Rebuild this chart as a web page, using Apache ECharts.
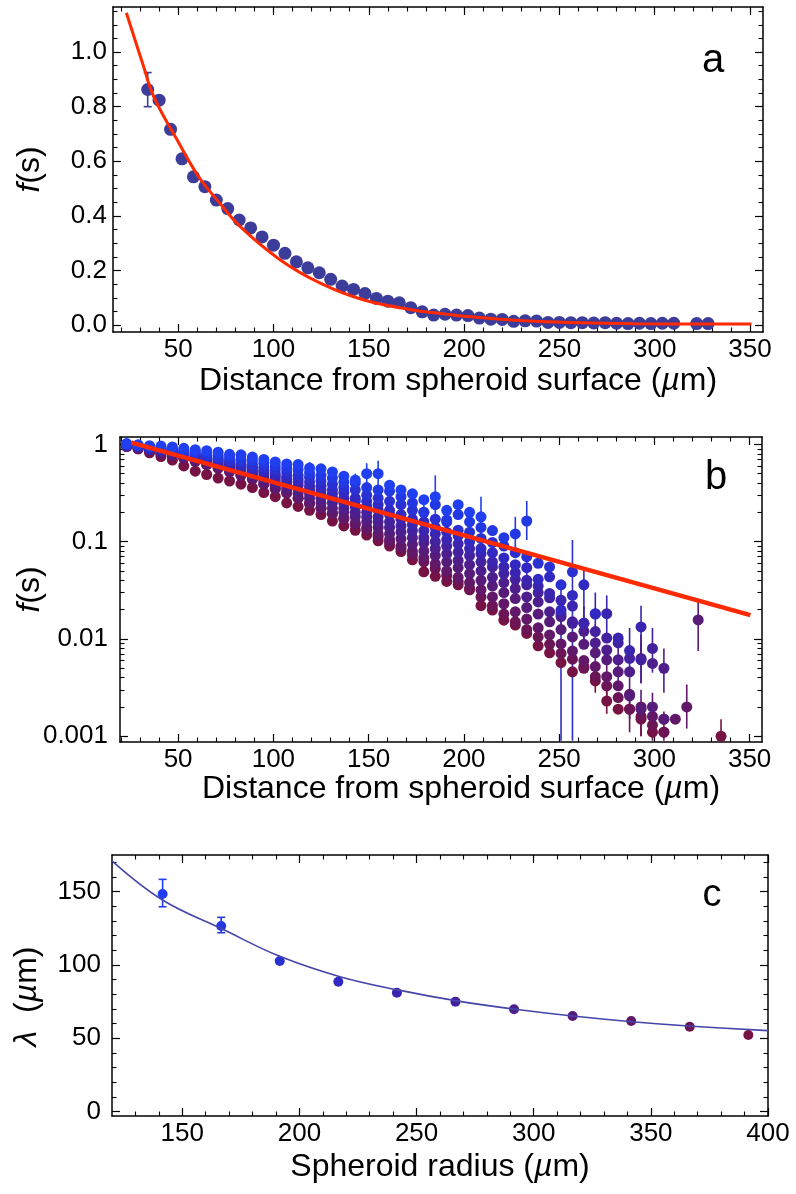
<!DOCTYPE html>
<html><head><meta charset="utf-8">
<script src="https://cdn.jsdelivr.net/npm/echarts@6/dist/echarts.min.js"></script>
<style>html,body{margin:0;padding:0;background:#fff}#c{width:796px;height:1194px}</style>
</head><body><div id="c"></div>
<script>
// ================= DATA =================
// Panel a : single spheroid profile
const distA = [34,40,46,52,58,64,70,76,82,88,94,100,106,112,118,124,130,136,142,148,154,160,166,172,178,184,190,196,202,208,214,220,226,232,238,244,250,256,262,268,274,280,286,292,298,304,310,322,328];
const fA = [0.863,0.824,0.717,0.609,0.543,0.507,0.458,0.427,0.385,0.356,0.323,0.293,0.263,0.232,0.21,0.192,0.168,0.143,0.131,0.116,0.098,0.088,0.082,0.064,0.049,0.037,0.040,0.037,0.035,0.026,0.022,0.021,0.014,0.016,0.015,0.010,0.010,0.009,0.009,0.008,0.009,0.007,0.006,0.007,0.006,0.007,0.007,0.006,0.006];
const errA = [[34,0.80,0.925,0]];
const fitAx = [22.8,31.9,37.2,49.5,60.8,70.5,82.7,103.8,124.8,147.5,173.8,187.8,201.8,236.9,289.4,350.7];
const fitAy = [1.144,0.946,0.836,0.678,0.543,0.458,0.36,0.238,0.153,0.092,0.055,0.043,0.032,0.014,0.0055,0.004];

// Panel b : profiles for 11 spheroid radii (blue = small, maroon = large)
const distanceBins = [23,29,35,41,47,53,59,65,71,77,83,89,95,101,107,113,119,125,131,137,143,149,155,161,167,173,179,185,191,197,203,209,215,221,227,233,239,245,251,257,263,269,275,281,287,293,299,305,311,317,323,329,335];
const fB1 = [1.02,0.99,0.97,0.96,0.94,0.91,0.88,0.86,0.83,0.79,0.78,0.74,0.70,0.66,0.63,0.62,0.57,0.56,0.52,0.47,0.43,0.50,0.50,0.38,0.34,0.31,0.27,0.29,0.21,0.24,0.20,0.18];
const fB2 = [1.0,0.98,0.95,0.93,0.9,0.87,0.84,0.8,0.77,0.74,0.70,0.68,0.64,0.6,0.57,0.55,0.51,0.48,0.45,0.41,0.40,0.36,0.34,0.33,0.29,0.25,0.20,0.24,0.167,0.19,0.16,0.14,0.13,0.11,0.12,0.163];
const fB3 = [0.99,0.97,0.94,0.91,0.88,0.84,0.81,0.77,0.73,0.69,0.66,0.62,0.58,0.55,0.52,0.48,0.46,0.42,0.39,0.36,0.34,0.30,0.28,0.26,0.24,0.21,0.20,0.17,0.16,0.131,0.125,0.108,0.098,0.09,0.077,0.07,0.06,0.055,0.036,0.049];
const fB4 = [1.0,0.96,0.92,0.89,0.86,0.82,0.78,0.74,0.70,0.66,0.62,0.58,0.54,0.50,0.47,0.44,0.41,0.37,0.34,0.32,0.28,0.26,0.24,0.21,0.19,0.17,0.16,0.14,0.125,0.115,0.10,0.085,0.077,0.068,0.058,0.054,0.041,0.0435,0.0198,0.028,0.036,0.018];
const fB5 = [0.98,0.95,0.91,0.88,0.85,0.81,0.77,0.72,0.68,0.64,0.60,0.56,0.52,0.47,0.44,0.41,0.37,0.34,0.31,0.28,0.26,0.23,0.21,0.19,0.17,0.15,0.13,0.12,0.105,0.095,0.085,0.075,0.062,0.055,0.048,0.04,0.035,0.0294,0.025,0.0218,0.0145,0.0182,0.0182,0.0102,0.0076,0.0133];
const fB6 = [1.0,0.95,0.9,0.87,0.83,0.79,0.75,0.7,0.66,0.62,0.58,0.53,0.49,0.44,0.41,0.38,0.34,0.31,0.28,0.25,0.23,0.2,0.18,0.16,0.145,0.13,0.11,0.1,0.09,0.078,0.072,0.062,0.055,0.047,0.041,0.036,0.03,0.0265,0.0182,0.0145,0.0145,0.0119,0.0102,0.0091,0.0063,0.0061,0.0080];
const fB7 = [0.97,0.94,0.89,0.85,0.82,0.77,0.73,0.68,0.63,0.59,0.55,0.5,0.45,0.41,0.38,0.34,0.31,0.28,0.25,0.22,0.2,0.18,0.16,0.14,0.125,0.11,0.097,0.085,0.075,0.064,0.058,0.05,0.043,0.038,0.033,0.027,0.024,0.019,0.017,0.015,0.012,0.0091,0.0077,0.0061,0.0046,0.0063,0.0056,0.005];
const fB8 = [0.95,0.92,0.88,0.83,0.79,0.75,0.7,0.65,0.61,0.56,0.52,0.47,0.42,0.38,0.35,0.31,0.28,0.25,0.22,0.2,0.18,0.16,0.14,0.12,0.107,0.094,0.08,0.072,0.062,0.054,0.047,0.04,0.035,0.03,0.026,0.021,0.018,0.015,0.0125,0.0105,0.0088,0.0072,0.0061,0.0046,0.0026,0.0019,0.002,0.0015,null,null,0.0157];
const fB9 = [0.98,0.92,0.86,0.81,0.77,0.72,0.67,0.62,0.57,0.52,0.48,0.44,0.39,0.35,0.32,0.28,0.25,0.22,0.195,0.175,0.155,0.14,0.12,0.105,0.09,0.08,0.068,0.059,0.05,0.043,0.038,0.032,0.027,0.023,0.019,0.016,0.013,0.011,0.0089,0.0075,0.006,0.0052,0.0041,0.0033,0.0027,0.002,0.0016,0.0015,0.0015,0.002];
const fB10 = [0.95,0.9,0.85,0.8,0.76,0.72,0.67,0.62,0.57,0.53,0.48,0.44,0.39,0.35,0.315,0.28,0.245,0.22,0.195,0.17,0.15,0.132,0.113,0.098,0.085,0.073,0.062,0.053,0.045,0.039,0.033,0.027,0.022,0.018,0.015,0.0125,0.0105,0.0088,0.0071,0.0062,0.005,0.0041,0.0033,0.0025,0.0019,0.0016,0.0013,0.0011];
const fB11 = [0.97,0.9,0.82,0.75,0.69,0.6,0.53,0.49,0.45,0.42,0.39,0.36,0.32,0.29,0.25,0.23,0.21,0.19,0.163,0.145,0.131,0.117,0.102,0.09,0.079,0.065,0.049,0.044,0.039,0.036,0.032,0.022,0.0198,0.0156,0.0139,0.0114,0.0085,0.0072,0.0057,0.0046,0.0052,0.0037,0.0023,0.0019,0.0019,0.0015,0.0011,0.0011,null,null,null,null,0.001];
// error bars: [distance, low, high, profile index]
const errB = [[119,0.50,0.66,0],[125,0.50,0.63,0],[143,0.37,0.50,0],[149,0.36,0.64,0],[155,0.37,0.68,0],[185,0.18,0.48,0],[209,0.112,0.29,0],
  [173,0.19,0.33,1],[179,0.16,0.27,1],[191,0.14,0.21,1],[227,0.07,0.18,1],[233,0.104,0.262,1],
  [257,0.0009,0.104,2],[251,0.0009,0.035,3],[233,0.035,0.08,3],[263,0.022,0.055,3],
  [269,0.011,0.03,4],[275,0.011,0.028,4],[287,0.004,0.013,4],[293,0.0065,0.022,4],[263,0.009,0.022,4],
  [251,0.011,0.027,5],[263,0.009,0.022,5],[299,0.0045,0.013,5],[293,0.0035,0.009,5],
  [269,0.005,0.014,6],[281,0.0035,0.01,6],[293,0.0035,0.011,6],[305,0.0028,0.008,6],
  [287,0.0015,0.004,7],[293,0.001,0.003,7],[323,0.0075,0.026,7],
  [275,0.0025,0.0065,8],[299,0.0009,0.0028,8],[317,0.0012,0.0034,8],
  [287,0.0011,0.003,9],[305,0.0009,0.0018,9],
  [269,0.0028,0.0048,10],[275,0.0017,0.003,10],[293,0.001,0.0022,10],[335,0.0009,0.0015,10]];
const fitBx = [25.5,350.4];
const fitBy = [1.04,0.0176];

// Panel c : decay length vs radius
const radiusC = [141.6,166.6,191.6,216.6,241.6,266.6,291.6,316.6,341.6,366.6,391.6];
const lambdaC = [148.4,126.6,102.7,88.6,81.1,75.0,69.8,65.2,61.8,57.9,52.3];
const errC = [[141.6,139.7,158.4,0],[166.6,122,132.5,1]];
const fitCx = [120,141.4,167.1,191.9,217.3,241.9,267.2,292,316.7,341.9,367.6,400];
const fitCy = [171,144.5,124.5,105.7,92,83,75.5,69.8,65.2,61.3,58.2,55.2];

// colours per radius (blue -> maroon)
const radiusColors = ['#1f3ff0','#2238e2','#2a30d2','#3229c2','#3b25b0','#44219e','#4d1e8c','#571b7a','#611868','#6b1556','#771244'];

// tick labels
const xTicksAB = [50,100,150,200,250,300,350];
const yTicksA = [0,0.2,0.4,0.6,0.8,1.0];
const yTicksB = [0.001,0.01,0.1,1];
const xTicksC = [150,200,250,300,350,400];
const yTicksC = [0,50,100,150];

// ================= HELPERS =================
const FONT = "'Liberation Sans', Arial, Helvetica, sans-serif";
const BLACK = '#000';
function stepMinors(from, to, step, majorStep) {
  const out = [];
  for (let i = 0; from + i * step <= to + 1e-9; i++) {
    const v = +(from + i * step).toFixed(6);
    const r = v / majorStep;
    if (Math.abs(r - Math.round(r)) > 1e-6) out.push(v);
  }
  return out;
}
const logMinors = [];
[0.001, 0.01, 0.1].forEach(d => { for (let m = 2; m <= 9; m++) logMinors.push(+(m * d).toPrecision(3)); });

function axes(dim, gridIndex, cfg) {
  const posA = dim === 'x' ? 'bottom' : 'left';
  const posB = dim === 'x' ? 'top' : 'right';
  const base = pos => {
    const o = { type: cfg.type, gridIndex, position: pos, min: cfg.min, max: cfg.max,
      splitLine: { show: false }, minorTick: { show: false }, minorSplitLine: { show: false },
      axisPointer: { show: false }, silent: true, nameMoveOverlap: false };
    if (cfg.type === 'log') o.logBase = 10;
    return o;
  };
  const major = (pos, primary) => Object.assign(base(pos), {
    axisLine: { show: true, onZero: false, lineStyle: { color: BLACK, width: 1.5 } },
    axisTick: { show: true, inside: true, length: 8, lineStyle: { color: BLACK, width: 1.2 }, customValues: cfg.majors },
    axisLabel: primary ? { show: true, customValues: cfg.majors, formatter: cfg.fmt, margin: cfg.margin,
      color: BLACK, fontSize: 26, fontFamily: FONT } : { show: false },
    name: primary ? cfg.name : '',
    nameLocation: 'middle', nameGap: cfg.nameGap,
    nameTextStyle: { fontSize: 32, fontFamily: FONT, color: BLACK, padding: cfg.namePad || 0,
      rich: { i: { fontStyle: 'italic', fontSize: 32, fontFamily: FONT, color: BLACK } } }
  });
  const minor = pos => Object.assign(base(pos), {
    axisLine: { show: false, onZero: false },
    axisTick: { show: true, inside: true, length: 4.5, lineStyle: { color: BLACK, width: 1.1 }, customValues: cfg.minors },
    axisLabel: { show: false }
  });
  return [major(posA, true), minor(posA), major(posB, false), minor(posB)];
}

function errSeries(xi, yi, data, colors, cap, width) {
  return {
    type: 'custom', xAxisIndex: xi, yAxisIndex: yi, data, silent: true, clip: true,
    encode: { x: 0, y: [1, 2] },
    renderItem(params, api) {
      const x = api.value(0), lo = api.value(1), hi = api.value(2);
      const col = colors[api.value(3)] || colors[0];
      const a = api.coord([x, lo]), b = api.coord([x, hi]);
      const style = { stroke: col, lineWidth: width };
      const ch = [{ type: 'line', shape: { x1: a[0], y1: a[1], x2: b[0], y2: b[1] }, style }];
      if (cap) {
        ch.push({ type: 'line', shape: { x1: a[0] - cap, y1: a[1], x2: a[0] + cap, y2: a[1] }, style });
        ch.push({ type: 'line', shape: { x1: b[0] - cap, y1: b[1], x2: b[0] + cap, y2: b[1] }, style });
      }
      return { type: 'group', children: ch };
    }
  };
}

const xName = 'Distance from spheroid surface ({i|µ}m)';
const xAxes = [].concat(
  axes('x', 0, { type: 'value', min: 15.8, max: 356.8, majors: xTicksAB, minors: stepMinors(20, 350, 10, 50),
    fmt: v => String(Math.round(v)), margin: 5, name: xName, nameGap: 33, namePad: [0, 0, 0, 40] }),
  axes('x', 1, { type: 'value', min: 19.5, max: 356.5, majors: xTicksAB, minors: stepMinors(20, 350, 10, 50),
    fmt: v => String(Math.round(v)), margin: 5, name: xName, nameGap: 31, namePad: [0, 0, 0, 40] }),
  axes('x', 2, { type: 'value', min: 120, max: 400, majors: xTicksC, minors: stepMinors(130, 390, 10, 50),
    fmt: v => String(Math.round(v)), margin: 5, name: 'Spheroid radius ({i|µ}m)', nameGap: 35 })
);
const yAxes = [].concat(
  axes('y', 0, { type: 'value', min: -0.025, max: 1.165, majors: yTicksA, minors: stepMinors(0.05, 1.15, 0.05, 0.2),
    fmt: v => Number(v).toFixed(1), margin: 6, name: '{i|f}(s)', nameGap: 67 }),
  axes('y', 1, { type: 'log', min: 0.000873, max: 1.19, majors: yTicksB, minors: logMinors,
    fmt: v => String(+Number(v).toPrecision(2)), margin: 12, name: '{i|f}(s)', nameGap: 74 }),
  axes('y', 2, { type: 'value', min: -3, max: 175, majors: yTicksC, minors: stepMinors(10, 170, 10, 50),
    fmt: v => String(Math.round(v)), margin: 11, name: '{i|λ}  ({i|µ}m)', nameGap: 69, namePad: [0, 22, 0, 0] })
);

const series = [];
// panel a
series.push(errSeries(0, 0, errA, ['#3c3c9b'], 4, 1.6));
series.push({ type: 'scatter', xAxisIndex: 0, yAxisIndex: 0, symbolSize: 13, silent: true,
  itemStyle: { color: '#3c3c9b', opacity: 1 }, data: distA.map((x, i) => [x, fA[i]]) });
series.push({ type: 'line', xAxisIndex: 0, yAxisIndex: 0, smooth: 0.4, showSymbol: false, silent: true, z: 5,
  lineStyle: { color: '#ff2a00', width: 3 }, data: fitAx.map((x, i) => [x, fitAy[i]]) });
// panel b
const profiles = [fB1, fB2, fB3, fB4, fB5, fB6, fB7, fB8, fB9, fB10, fB11];
series.push(errSeries(4, 4, errB, radiusColors, 0, 1.6));
for (let s = profiles.length - 1; s >= 0; s--) {
  const arr = profiles[s];
  const pts = [];
  arr.forEach((v, k) => { if (v != null) pts.push([distanceBins[k], v]); });
  series.push({ type: 'scatter', xAxisIndex: 4, yAxisIndex: 4, symbolSize: 11, silent: true, clip: true,
    itemStyle: { color: radiusColors[s], opacity: 1 }, data: pts });
}
series.push({ type: 'line', xAxisIndex: 4, yAxisIndex: 4, showSymbol: false, silent: true, z: 6,
  lineStyle: { color: '#ff2a00', width: 4.5 }, data: fitBx.map((x, i) => [x, fitBy[i]]) });
// panel c
series.push({ type: 'line', xAxisIndex: 8, yAxisIndex: 8, smooth: 0.4, showSymbol: false, silent: true,
  lineStyle: { color: '#4545aa', width: 1.6 }, data: fitCx.map((x, i) => [x, fitCy[i]]) });
series.push(errSeries(8, 8, errC, radiusColors, 4, 1.6));
series.push({ type: 'scatter', xAxisIndex: 8, yAxisIndex: 8, symbolSize: 10, silent: true,
  itemStyle: { color: p => radiusColors[p.dataIndex], opacity: 1 }, data: radiusC.map((x, i) => [x, lambdaC[i]]) });

const chart = echarts.init(document.getElementById('c'), null, { renderer: 'canvas', width: 796, height: 1194 });
chart.setOption({
  animation: false,
  backgroundColor: '#fff',
  grid: [
    { left: 113, top: 7, width: 650, height: 325, outerBoundsMode: 'none' },
    { left: 120, top: 437, width: 642, height: 305, outerBoundsMode: 'none' },
    { left: 112, top: 855, width: 656, height: 261, outerBoundsMode: 'none' }
  ],
  xAxis: xAxes,
  yAxis: yAxes,
  series,
  graphic: [
    { type: 'text', x: 713, y: 61, style: { text: 'a', fontSize: 40, fontFamily: FONT, fill: BLACK, align: 'center', verticalAlign: 'middle' } },
    { type: 'text', x: 716, y: 478, style: { text: 'b', fontSize: 40, fontFamily: FONT, fill: BLACK, align: 'center', verticalAlign: 'middle' } },
    { type: 'text', x: 712, y: 896, style: { text: 'c', fontSize: 38, fontFamily: FONT, fill: BLACK, align: 'center', verticalAlign: 'middle' } }
  ]
});
</script></body></html>
